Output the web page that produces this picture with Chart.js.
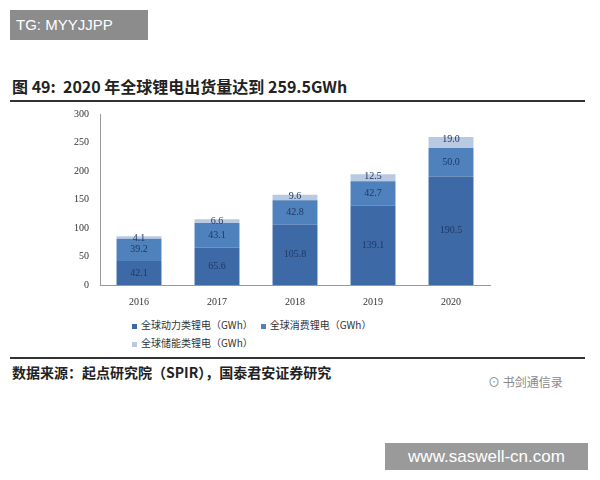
<!DOCTYPE html>
<html><head><meta charset="utf-8">
<script src="https://cdn.jsdelivr.net/npm/chart.js@4"></script>
<style>
body{margin:0;width:600px;height:480px;background:#fff;position:relative;font-family:"Noto Sans CJK SC",serif;overflow:hidden}
.abs{position:absolute}
#tg{left:10px;top:10px;width:138px;height:30px;background:#8c8c8c;color:#fff;font:15px "Liberation Sans";line-height:30px;padding-left:6px;box-sizing:border-box}
#title{left:12px;top:74px;font-weight:bold;font-size:16px;color:#222}
.rule{left:10px;width:575px;height:2px;background:#333}
#wrap{left:60px;top:105px;width:440px;height:206px}
.leg{font-size:10px;color:#333}
.sw{display:inline-block;width:5px;height:5px;margin-right:4px;vertical-align:middle}
#src{left:12px;top:362px;font-weight:bold;font-size:14px;color:#222}
#wm{left:385px;top:443px;width:203px;height:27px;background:#9a9a9a;color:#fff;font:17px "Liberation Sans";line-height:27px;text-align:center}
#wx{left:488px;top:373px;font-size:12px;color:#888}
</style></head><body>
<div id="tg" class="abs">TG: MYYJJPP</div>
<div id="title" class="abs">图 49:&nbsp; 2020 年全球锂电出货量达到 259.5GWh</div>
<div class="abs rule" style="top:100px"></div>
<div id="wrap" class="abs"><canvas id="c"></canvas></div>
<div class="abs leg" style="left:132px;top:317px"><span class="sw" style="background:#3d6aa6"></span>全球动力类锂电（GWh）<span class="sw" style="background:#4f81bd;margin-left:8px"></span>全球消费锂电（GWh）</div>
<div class="abs leg" style="left:132px;top:335px"><span class="sw" style="background:#b9c9e2"></span>全球储能类锂电（GWh）</div>
<div class="abs rule" style="top:357px"></div>
<div id="src" class="abs">数据来源：起点研究院（SPIR），国泰君安证券研究</div>
<div id="wx" class="abs">⊙ 书剑通信录</div>
<div id="wm" class="abs">www.saswell-cn.com</div>
<script>
const years = ['2016','2017','2018','2019','2020'];
const power = [42.1, 65.6, 105.8, 139.1, 190.5];
const consumer = [39.2, 43.1, 42.8, 42.7, 50.0];
const storage = [4.1, 6.6, 9.6, 12.5, 19.0];

const labelPlugin = {
  id: 'segLabels',
  afterDatasetsDraw(chart) {
    const ctx = chart.ctx;
    ctx.save();
    ctx.font = '10px "Liberation Serif"';
    ctx.textAlign = 'center';
    ctx.textBaseline = 'middle';
    chart.data.datasets.forEach((ds, i) => {
      chart.getDatasetMeta(i).data.forEach((bar, j) => {
        const y = (bar.y + bar.base) / 2;
        ctx.fillStyle = '#1f3864';
        ctx.fillText(ds.data[j].toFixed(1), bar.x, i === 2 ? bar.y + 2 : y);
      });
    });
    ctx.restore();
  }
};

new Chart(document.getElementById('c'), {
  type: 'bar',
  data: { labels: years, datasets: [
    { data: power, backgroundColor: '#3d6aa6' },
    { data: consumer, backgroundColor: '#4f81bd' },
    { data: storage, backgroundColor: '#b9c9e2' }
  ]},
  options: {
    responsive: true, maintainAspectRatio: false, animation: false,
    datasets: { bar: { categoryPercentage: 0.8, barPercentage: 0.72 } },
    layout: { padding: { left: 0, right: 10, top: 4 } },
    plugins: { legend: { display: false }, tooltip: { enabled: false } },
    scales: {
      x: { stacked: true,
           grid: { display: false }, border: { color: '#999' },
           ticks: { color: '#333', font: { size: 10, family: 'Liberation Serif' } } },
      y: { stacked: true, min: 0, max: 300, afterFit: s => { s.width = 40; },
           ticks: { stepSize: 50, color: '#333', font: { size: 10, family: 'Liberation Serif' } },
           grid: { display: false }, border: { color: '#999' } }
    }
  },
  plugins: [labelPlugin]
});
</script>
</body></html>
